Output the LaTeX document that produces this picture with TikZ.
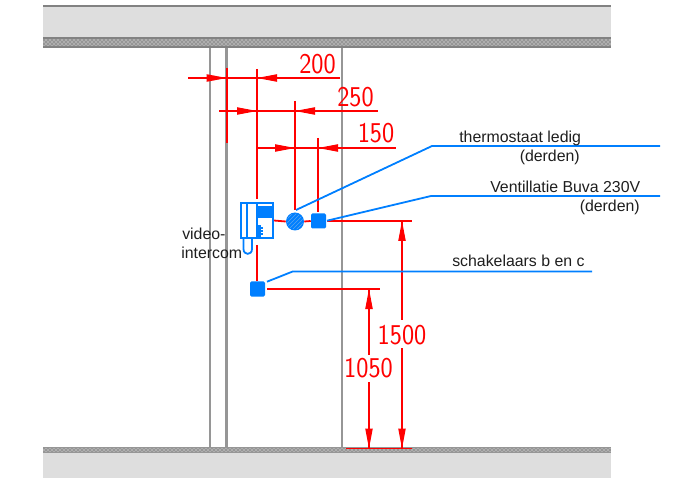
\documentclass[tikz,border=0pt]{standalone}
\usepackage{fontspec}
\setmainfont{Liberation Sans}
\usetikzlibrary{patterns}
\definecolor{wallgray}{RGB}{150,150,150}
\definecolor{edgegray}{RGB}{130,130,130}
\definecolor{slabgray}{RGB}{222,222,222}
\definecolor{cadred}{RGB}{255,0,0}
\definecolor{cadblue}{RGB}{0,127,255}
\definecolor{hatchblue}{RGB}{90,165,240}
\definecolor{labelgray}{RGB}{30,30,30}
\tikzset{
  wall/.style={draw=wallgray,line width=1.6pt},
  slab/.style={fill=slabgray,draw=none},
  hatchband/.style={pattern=crosshatch dots,pattern color=white,draw=none},
  band/.style={fill=wallgray,draw=none},
  edge/.style={fill=edgegray,draw=none},
  dimline/.style={draw=cadred,line width=1.35pt},
  dimhead/.style={fill=cadred,draw=none},
  dimtext/.style={text=cadred,font=\fontsize{21.5}{21.5}\fontspec{Latin Modern Sans},xscale=.9,inner sep=0pt},
  leader/.style={draw=cadblue,line width=1.35pt},
  device/.style={draw=cadblue,line width=1.35pt},
  bluefill/.style={fill=cadblue,draw=none},
  lbl/.style={text=labelgray,font=\fontsize{11.9}{11.9}\selectfont,inner sep=0pt},
}
\newcommand{\headR}[2]{\fill[dimhead] (#1,#2) -- (#1-20,#2-3.8) -- (#1-20,#2+3.8) -- cycle;}
\newcommand{\headL}[2]{\fill[dimhead] (#1,#2) -- (#1+20,#2-3.8) -- (#1+20,#2+3.8) -- cycle;}
\newcommand{\headU}[2]{\fill[dimhead] (#1,#2) -- (#1-3.8,#2+20) -- (#1+3.8,#2+20) -- cycle;}
\newcommand{\headD}[2]{\fill[dimhead] (#1,#2) -- (#1-3.8,#2-20) -- (#1+3.8,#2-20) -- cycle;}
\begin{document}
\begin{tikzpicture}[x=0.75pt,y=-0.75pt]
\useasboundingbox (0,0) rectangle (676,478);
% slabs
\fill[slab] (43,6) rectangle (611,38);
\fill[edge] (43,5.5) rectangle (611,7);
\fill[band] (43,38) rectangle (611,48);
\fill[hatchband] (43,40) rectangle (611,46);
\fill[edge] (43,37.5) rectangle (611,39.5);
\fill[edge] (43,46.5) rectangle (611,48);
\fill[band] (43,447) rectangle (611,453);
\fill[hatchband] (43,448.5) rectangle (611,451.5);
\fill[slab] (43,453) rectangle (611,478);
% walls
\draw[wall] (210,48) -- (210,447);
\draw[wall,line width=2.3pt] (226.5,48) -- (226.5,447);
\draw[wall] (342,48) -- (342,447);
% named symbols
\node[bluefill,circle,minimum size=18*0.75pt,inner sep=0pt] (thermo) at (295,221.5) {};
\fill[pattern=north east lines,pattern color=hatchblue] (295,221.5) circle [radius=6pt];
\node[bluefill,rounded corners=1pt,minimum size=15*0.75pt,inner sep=0pt] (vent) at (318.5,221) {};
\node[bluefill,rounded corners=1pt,minimum size=15*0.75pt,inner sep=0pt] (switch) at (257.5,289) {};
\node[device,minimum width=32*0.75pt,minimum height=35*0.75pt,inner sep=0pt] (intercom) at (257,220.5) {};
% dimension lines
\draw[dimline] (188,78) -- (340,78);
\draw[dimline] (219,111) -- (378,111);
\draw[dimline] (257,148) -- (396,148);
\draw[dimline] (226.7,68) -- (226.7,143);
\draw[dimline] (257,69) -- (257,199);
\draw[dimline] (295,101) -- (295,210);
\draw[dimline] (318,138) -- (318,212);
\draw[dimline] (257,245) -- (257,281);
\draw[dimline] (intercom.east) -- (thermo.west);
\draw[dimline] (thermo.east) -- (vent.west);
\draw[dimline] (327,221) -- (412,221);
\draw[dimline] (267,289) -- (380,289);
\draw[dimline] (346,448.5) -- (412,448.5);
\draw[dimline] (402,221) -- (402,320);
\draw[dimline] (402,348) -- (402,448.5);
\draw[dimline] (369,289) -- (369,355);
\draw[dimline] (369,382) -- (369,448.5);
\headR{226.7}{78} \headL{257}{78}
\headR{257}{111} \headL{295}{111}
\headR{295}{148} \headL{318}{148}
\headU{402}{221} \headD{402}{448.5}
\headU{369}{289} \headD{369}{448.5}
% dimension texts
\node[dimtext] (d200) at (317.5,64.5) {200};
\node[dimtext] (d250) at (355.5,97) {250};
\node[dimtext] (d150) at (376,133.5) {150};
\node[dimtext] (d1500) at (402,335) {1500};
\node[dimtext] (d1050) at (368.5,368.5) {1050};
% intercom details
\draw[device] (247,203) -- (247,238);
\draw[device] (257,203) -- (257,238);
\fill[bluefill] (258,206.5) rectangle (272.5,217);
\draw[device] (258,217) -- (272.5,217);
\fill[bluefill] (258,225.5) rectangle (261,237);
\draw[device] (258,228) -- (263,228) (258,231) -- (263,231) (258,234) -- (263,234);
\draw[device] (243.5,238) -- (243.5,249) .. controls (243.5,255.5) and (252,255.5) .. (252,249) -- (252,238);
% leaders
\coordinate (l1s) at (296,210); \coordinate (l1a) at (432,146); \coordinate (l1b) at (660,146);
\coordinate (l2s) at (327,220.7); \coordinate (l2a) at (431,196); \coordinate (l2b) at (660,196);
\coordinate (l3s) at (267,281.7); \coordinate (l3a) at (292.7,271.5); \coordinate (l3b) at (592,271.5);
\draw[leader] (l1s) -- (l1a) -- (l1b);
\draw[leader] (l2s) -- (l2a) -- (l2b);
\draw[leader] (l3s) -- (l3a) -- (l3b);
% labels
\node[lbl,anchor=base west] (t1) at (459,143) {thermostaat ledig};
\node[lbl,anchor=base east] (t2) at (580,162) {(derden)};
\node[lbl,anchor=base west] (t3) at (490,193) {Ventillatie Buva 230V};
\node[lbl,anchor=base east] (t4) at (640,212) {(derden)};
\node[lbl,anchor=base west] (t5) at (452,267) {schakelaars b en c};
\node[lbl,anchor=base west] (t6) at (182,239) {video-};
\node[lbl,anchor=base west] (t7) at (181,258) {intercom};
\end{tikzpicture}
\end{document}
